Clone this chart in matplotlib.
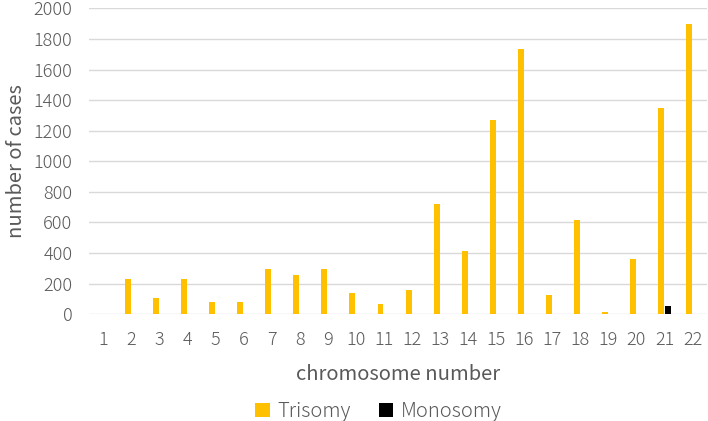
import matplotlib
matplotlib.use("Agg")
import matplotlib.pyplot as plt
import numpy as np

plt.rcParams['font.family'] = ['Noto Sans CJK JP', 'DejaVu Sans']
plt.rcParams['font.weight'] = 'light'

chromosomes = [str(i) for i in range(1, 23)]
trisomy = [0, 230, 105, 228, 78, 80, 295, 255, 296, 140, 64, 156,
           718, 410, 1267, 1735, 122, 615, 15, 360, 1346, 1895]
monosomy = [0, 0, 0, 0, 0, 0, 0, 0, 0, 0, 0, 0,
            3, 0, 1, 0, 0, 0, 0, 0, 55, 1]
y_ticks = list(range(0, 2001, 200))

tcolor = '#595959'
fig = plt.figure(figsize=(7.08, 4.21), dpi=100)
ax = fig.add_axes([0.126, 0.254, 0.872, 0.726])

x = np.arange(len(chromosomes))
w = 0.21
ax.bar(x - 0.12, trisomy, width=w, color='#FFC000', label='Trisomy', zorder=3)
ax.bar(x + 0.12, monosomy, width=w, color='#000000', label='Monosomy', zorder=3)

ax.set_xlim(-0.5, len(chromosomes) - 0.5)
ax.set_ylim(0, 2000)
ax.set_yticks(y_ticks)
ax.set_xticks(x)
ax.set_xticklabels(chromosomes)
ax.grid(axis='y', color='#d9d9d9', linewidth=1.0, zorder=0)
for s in ax.spines.values():
    s.set_visible(False)
ax.tick_params(axis='both', length=0, labelsize=13, labelcolor=tcolor)
ax.tick_params(axis='y', pad=12)
ax.tick_params(axis='x', pad=12)
ax.set_xlabel('chromosome number', fontsize=14.5, color=tcolor, labelpad=11)
ax.set_ylabel('number of cases', fontsize=14.5, color=tcolor, labelpad=5)

leg = fig.legend(loc='lower center', bbox_to_anchor=(0.535, -0.045), ncol=2,
                 frameon=False, fontsize=14.5, handlelength=0.7, handleheight=0.7,
                 handletextpad=0.4, columnspacing=1.4)
for t in leg.get_texts():
    t.set_color(tcolor)

fig.savefig('out.png', dpi=100)
